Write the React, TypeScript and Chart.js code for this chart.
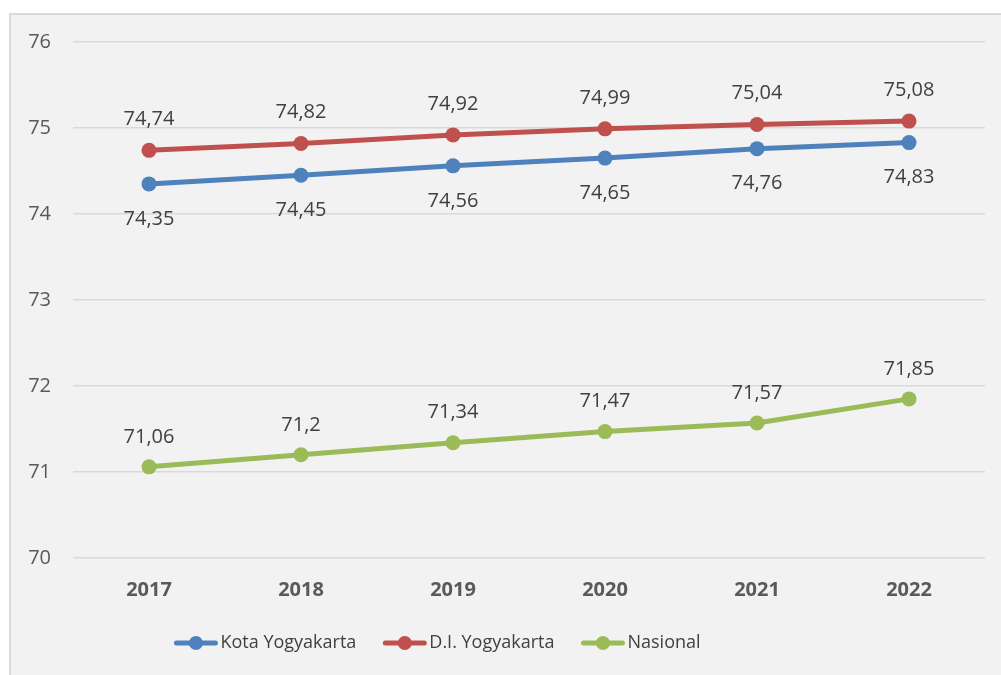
import React, { useEffect, useRef } from "react";
import { Chart, registerables } from "chart.js";

Chart.register(...registerables);

const years = ["2017", "2018", "2019", "2020", "2021", "2022"];
const kotaYogyakarta = [74.35, 74.45, 74.56, 74.65, 74.76, 74.83];
const diYogyakarta = [74.74, 74.82, 74.92, 74.99, 75.04, 75.08];
const nasional = [71.06, 71.2, 71.34, 71.47, 71.57, 71.85];
const seriesNames = ["Kota Yogyakarta", "D.I. Yogyakarta", "Nasional"];
const seriesColors = ["#4f81bd", "#c0504d", "#9bbb59"];
const labelOffsets = [35, -31, -30];

const FONT = "'Open Sans', 'DejaVu Sans', sans-serif";

const dataLabelPlugin = {
  id: "dataLabels",
  afterDatasetsDraw(chart: any) {
    const ctx = chart.ctx;
    ctx.save();
    ctx.font = `20px ${FONT}`;
    ctx.fillStyle = "#404040";
    ctx.textAlign = "center";
    ctx.textBaseline = "middle";
    chart.data.datasets.forEach((ds: any, i: number) => {
      const meta = chart.getDatasetMeta(i);
      meta.data.forEach((pt: any, j: number) => {
        const txt = String(ds.data[j]).replace(".", ",");
        ctx.fillText(txt, pt.x, pt.y + labelOffsets[i]);
      });
    });
    ctx.restore();
  },
};

const legendPlugin = {
  id: "customLegend",
  afterDraw(chart: any) {
    const ctx = chart.ctx;
    ctx.save();
    ctx.font = `18px ${FONT}`;
    const lineLen = 43;
    const gapText = 3;
    const gapItem = 27;
    const widths = seriesNames.map((n) => ctx.measureText(n).width);
    const total =
      widths.reduce((a, w) => a + lineLen + gapText + w, 0) + gapItem * (seriesNames.length - 1);
    let x = 437.5 - total / 2;
    const y = 643;
    seriesNames.forEach((name, i) => {
      ctx.strokeStyle = seriesColors[i];
      ctx.lineWidth = 5;
      ctx.lineCap = "round";
      ctx.beginPath();
      ctx.moveTo(x + 2, y);
      ctx.lineTo(x + lineLen - 2, y);
      ctx.stroke();
      ctx.fillStyle = seriesColors[i];
      ctx.beginPath();
      ctx.arc(x + lineLen / 2, y, 7, 0, Math.PI * 2);
      ctx.fill();
      ctx.fillStyle = "#404040";
      ctx.textAlign = "left";
      ctx.textBaseline = "middle";
      ctx.fillText(name, x + lineLen + gapText, y);
      x += lineLen + gapText + widths[i] + gapItem;
    });
    ctx.restore();
  },
};

export default function App() {
  const ref = useRef<HTMLCanvasElement | null>(null);

  useEffect(() => {
    if (!ref.current) return;
    const seriesData = [kotaYogyakarta, diYogyakarta, nasional];
    const chart = new Chart(ref.current, {
      type: "line",
      data: {
        labels: years,
        datasets: seriesNames.map((name, i) => ({
          label: name,
          data: seriesData[i],
          borderColor: seriesColors[i],
          backgroundColor: seriesColors[i],
          borderWidth: 5,
          pointRadius: 7.5,
          pointHoverRadius: 7.5,
          pointBorderWidth: 0,
          tension: 0,
        })),
      },
      options: {
        responsive: false,
        animation: false,
        devicePixelRatio: 1,
        layout: { padding: { left: 0, right: 16, top: 42, bottom: 0 } },
        plugins: {
          legend: { display: false },
          tooltip: { enabled: false },
        },
        scales: {
          x: {
            offset: true,
            grid: { display: false, drawTicks: false },
            border: { display: false },
            ticks: {
              padding: 20,
              color: "#595959",
              font: { family: FONT, size: 20, weight: "bold" },
            },
            afterFit(scale: any) {
              scale.height = 117;
            },
          },
          y: {
            min: 70,
            max: 76,
            grid: { color: "#d9d9d9", lineWidth: 1.5, drawTicks: false },
            border: { display: false },
            ticks: {
              stepSize: 1,
              padding: 22,
              color: "#595959",
              font: { family: FONT, size: 20 },
            },
            afterFit(scale: any) {
              scale.width = 73;
            },
          },
        },
      },
      plugins: [dataLabelPlugin, legendPlugin],
    } as any);
    return () => chart.destroy();
  }, []);

  return (
    <div style={{ position: "fixed", left: 0, top: 0, width: 1001, height: 675, background: "#ffffff", overflow: "hidden" }}>
      <div
        style={{
          position: "absolute",
          left: 9,
          top: 13,
          width: 992,
          height: 662,
          boxSizing: "border-box",
          background: "#f2f2f2",
          borderLeft: "2px solid #d9d9d9",
          borderTop: "2px solid #d9d9d9",
        }}
      />
      <canvas
        ref={ref}
        width={1001}
        height={675}
        style={{ position: "absolute", left: 0, top: 0, width: 1001, height: 675 }}
      />
    </div>
  );
}
